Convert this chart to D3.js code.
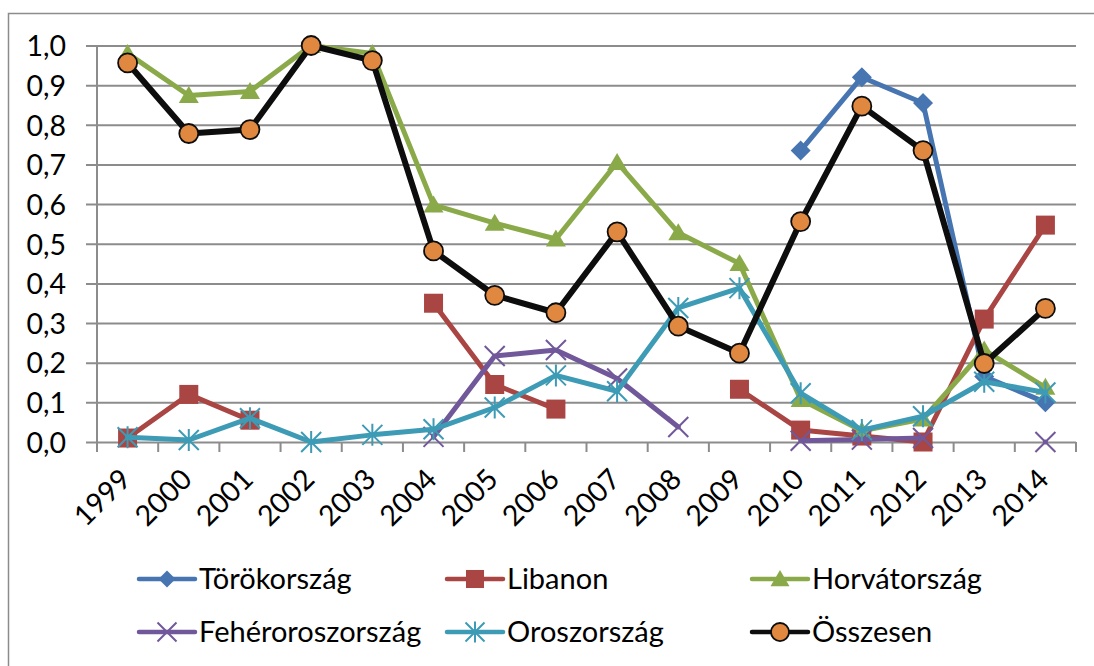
<!DOCTYPE html>
<html>
<head>
<meta charset="utf-8">
<script src="https://cdn.jsdelivr.net/npm/d3@7"></script>
<style>
  html, body { margin: 0; padding: 0; background: #fff; }
  svg { display: block; }
  text { font-family: Lato, "Open Sans", sans-serif; fill: #000; }
</style>
</head>
<body>
<svg id="chart" width="1094" height="666"></svg>
<script>
// Categories (years) and y-axis ticks
const years = ["1999","2000","2001","2002","2003","2004","2005","2006","2007","2008","2009","2010","2011","2012","2013","2014"];
const yTicks = [0, 0.1, 0.2, 0.3, 0.4, 0.5, 0.6, 0.7, 0.8, 0.9, 1.0];

// Series values (null = no data for that year)
const torokorszag      = [null, null, null, null, null, null, null, null, null, null, null, 0.735, 0.92, 0.855, 0.165, 0.10];
const libanon          = [0.01, 0.12, 0.055, null, null, 0.35, 0.145, 0.083, null, null, 0.133, 0.03, 0.015, 0.0, 0.31, 0.547];
const horvatorszag     = [0.98, 0.874, 0.884, 1.0, 0.98, 0.598, 0.552, 0.512, 0.705, 0.528, 0.45, 0.107, 0.028, 0.058, 0.232, 0.138];
const feheroroszorszag = [null, null, null, null, null, 0.013, 0.217, 0.232, 0.16, 0.038, null, 0.003, 0.006, 0.01, null, 0.0];
const oroszorszag      = [0.012, 0.005, 0.06, 0.0, 0.018, 0.032, 0.087, 0.168, 0.128, 0.338, 0.388, 0.123, 0.03, 0.065, 0.152, 0.125];
const osszesen         = [0.956, 0.778, 0.788, 1.0, 0.962, 0.482, 0.37, 0.326, 0.53, 0.292, 0.224, 0.556, 0.847, 0.735, 0.198, 0.337];

const seriesNames = ["Törökország", "Libanon", "Horvátország", "Fehéroroszország", "Oroszország", "Összesen"];

const series = [
  { name: seriesNames[0], values: torokorszag,      color: "#4675b1", marker: "diamond",  width: 5 },
  { name: seriesNames[1], values: libanon,          color: "#a94542", marker: "square",   width: 5 },
  { name: seriesNames[2], values: horvatorszag,     color: "#8aaa4a", marker: "triangle", width: 5 },
  { name: seriesNames[3], values: feheroroszorszag, color: "#71589a", marker: "x",        width: 5 },
  { name: seriesNames[4], values: oroszorszag,      color: "#3d9bb5", marker: "star",     width: 5 },
  { name: seriesNames[5], values: osszesen,         color: "#0d0d0d", marker: "circle",   width: 6, fill: "#e0883f" }
];

const svg = d3.select("#chart");
const gridColor = "#8c8c8c";

// Outer chart frame
svg.append("rect")
  .attr("x", 8.5).attr("y", 13.5)
  .attr("width", 1200).attr("height", 800)
  .attr("fill", "none").attr("stroke", "#8c8c8c").attr("stroke-width", 1.5);

// Scales
const plot = { left: 97, right: 1076, top: 45.5, bottom: 442 };
const x = d3.scaleBand().domain(years).range([plot.left, plot.right]).padding(0);
const cx = d => x(d) + x.bandwidth() / 2;
const y = d3.scaleLinear().domain([0, 1]).range([plot.bottom, plot.top]);

const huLocale = d3.formatLocale({ decimal: ",", thousands: " ", grouping: [3], currency: ["", " Ft"] });
const fmt = huLocale.format(".1f");

// Horizontal gridlines with y-axis labels
const yAxis = d3.axisLeft(y)
  .tickValues(yTicks)
  .tickFormat(fmt)
  .tickSize(-(plot.right - plot.left) - 11)
  .tickPadding(20);
const gy = svg.append("g")
  .attr("transform", `translate(${plot.right},0)`)
  .call(yAxis);
gy.select(".domain").remove();
gy.selectAll(".tick line")
  .attr("x1", 0).attr("x2", -(plot.right - 86))
  .attr("stroke", gridColor).attr("stroke-width", 2);
gy.selectAll(".tick text")
  .attr("x", -(plot.right - 66))
  .attr("text-anchor", "end")
  .attr("dy", "0.36em")
  .style("font-size", "28.5px")
  .style("font-family", "Lato, 'Open Sans', sans-serif")
  .attr("fill", "#000");

// Vertical axis line
svg.append("line")
  .attr("x1", plot.left).attr("x2", plot.left)
  .attr("y1", plot.top).attr("y2", plot.bottom)
  .attr("stroke", gridColor).attr("stroke-width", 2);

// Category axis: ticks at band edges, rotated year labels
const edges = years.map(d => x(d)).concat([plot.right]);
svg.append("g").selectAll("line")
  .data(edges)
  .join("line")
  .attr("x1", d => d).attr("x2", d => d)
  .attr("y1", plot.bottom).attr("y2", plot.bottom + 10)
  .attr("stroke", gridColor).attr("stroke-width", 2);

svg.append("g").selectAll("text")
  .data(years)
  .join("text")
  .attr("transform", d => `translate(${cx(d) + 5},${plot.bottom + 39}) rotate(-45)`)
  .attr("text-anchor", "end")
  .style("font-size", "28.5px")
  .text(d => d);

// Marker shapes
function drawMarker(g, type, color, fill, size) {
  const s = size;
  if (type === "diamond") {
    g.append("path").attr("d", `M0,${-s}L${s},0L0,${s}L${-s},0Z`).attr("fill", color);
  } else if (type === "square") {
    g.append("rect").attr("x", -s * 0.95).attr("y", -s * 0.95).attr("width", s * 1.9).attr("height", s * 1.9).attr("fill", color);
  } else if (type === "triangle") {
    g.append("path").attr("d", `M0,${-s * 0.95}L${s},${s * 0.75}L${-s},${s * 0.75}Z`).attr("fill", color);
  } else if (type === "x") {
    g.append("path").attr("d", `M${-s},${-s}L${s},${s}M${-s},${s}L${s},${-s}`)
      .attr("stroke", color).attr("stroke-width", 2).attr("fill", "none");
  } else if (type === "star") {
    g.append("path").attr("d", `M${-s},${-s}L${s},${s}M${-s},${s}L${s},${-s}M0,${-s * 1.1}L0,${s * 1.1}`)
      .attr("stroke", color).attr("stroke-width", 2).attr("fill", "none");
  } else if (type === "circle") {
    g.append("circle").attr("r", s * 0.95).attr("fill", fill).attr("stroke", color).attr("stroke-width", 1.8);
  }
}

// Series lines and markers, drawn in series order
const line = d3.line()
  .defined(d => d.v !== null)
  .x(d => cx(d.year))
  .y(d => y(d.v));

series.forEach(s => {
  const pts = years.map((yr, i) => ({ year: yr, v: s.values[i] }));
  const g = svg.append("g");
  g.append("path")
    .datum(pts)
    .attr("d", line)
    .attr("fill", "none")
    .attr("stroke", s.color)
    .attr("stroke-width", s.width)
    .attr("stroke-linejoin", "round")
    .attr("stroke-linecap", "round");
  pts.filter(p => p.v !== null).forEach(p => {
    const m = g.append("g").attr("transform", `translate(${cx(p.year)},${y(p.v)})`);
    drawMarker(m, s.marker, s.color, s.fill, 10);
  });
});

// Legend: three columns, two rows
const legendCols = [139, 447, 752];
const legendRows = [579, 632];
series.forEach((s, i) => {
  const lx = legendCols[i % 3];
  const ly = legendRows[Math.floor(i / 3)];
  const g = svg.append("g").attr("transform", `translate(${lx},${ly})`);
  g.append("line")
    .attr("x1", 0).attr("x2", 56).attr("y1", 0).attr("y2", 0)
    .attr("stroke", s.color).attr("stroke-width", 4.5).attr("stroke-linecap", "round");
  const m = g.append("g").attr("transform", "translate(28,0)");
  drawMarker(m, s.marker, s.color, s.fill, s.marker === "diamond" ? 8.5 : 9.5);
  g.append("text")
    .attr("x", 60)
    .attr("y", 10)
    .style("font-size", "29px")
    .text(s.name);
});
</script>
</body>
</html>
